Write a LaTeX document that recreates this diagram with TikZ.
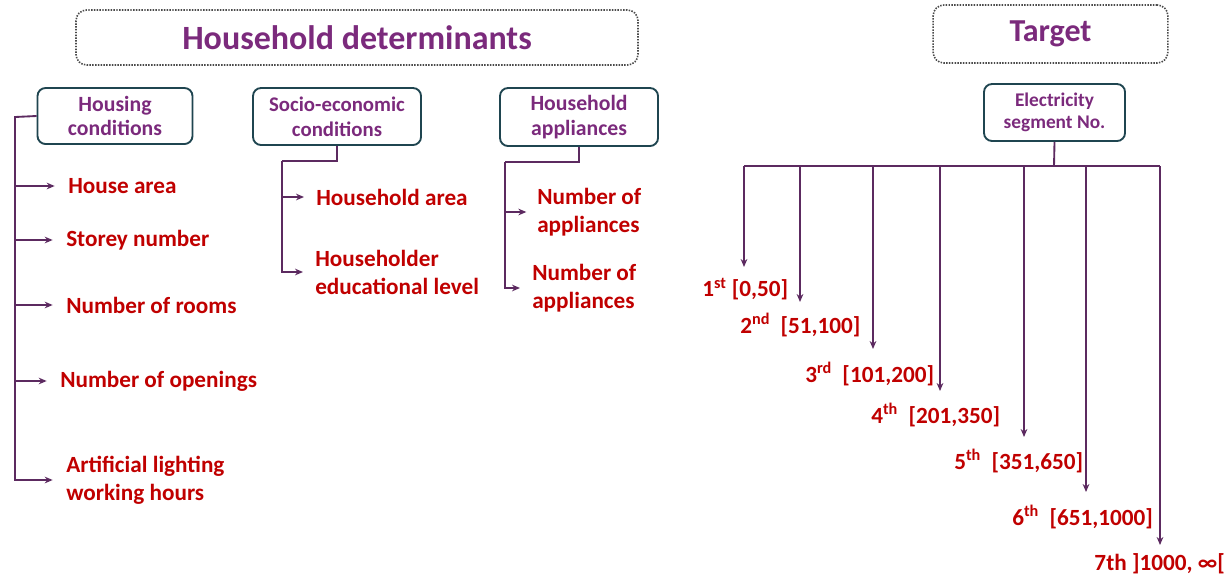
\documentclass[tikz,border=0pt]{standalone}
\usepackage{fontspec}
\setmainfont{Carlito}
\usetikzlibrary{arrows.meta}
\definecolor{tpurple}{HTML}{7B2A7C}
\definecolor{bord}{HTML}{1F4550}
\definecolor{lnc}{HTML}{5C2A60}
\definecolor{tred}{HTML}{C00000}
\definecolor{dotc}{HTML}{4A4A4A}
\begin{document}
\begin{tikzpicture}[x=0.75pt,y=-0.75pt,
  titlebox/.style={draw=dotc, dash pattern=on 1.1pt off 1pt, line width=1.2pt, rounded corners=8pt, text=tpurple, font=\bfseries\fontsize{25.5}{30}\selectfont, inner sep=0},
  catbox/.style={draw=bord, line width=1.4pt, rounded corners=6pt, text=tpurple, align=center, font=\bfseries\fontsize{16.3}{18.5}\selectfont, inner sep=0},
  item/.style={text=tred, font=\bfseries\fontsize{17.4}{21}\selectfont, anchor=west, inner sep=0, align=left},
  seg/.style={text=tred, font=\bfseries\fontsize{17.4}{21}\selectfont, anchor=west, inner sep=0},
  ln/.style={draw=lnc, line width=1.4pt},
  arr/.style={ln, -{Stealth[length=6pt,width=5pt]}}
]
\useasboundingbox (0,0) rectangle (1230,579);

% titles
\node[titlebox, minimum width=421.5pt, minimum height=41.25pt] (hd) at (357,37.5) {Household determinants};
\node[titlebox, minimum width=176pt, minimum height=43.5pt, font=\bfseries\fontsize{24}{28}\selectfont] (tg) at (1050.5,34) {Target};

% category boxes
\node[catbox, minimum width=116.25pt, minimum height=42pt] (hc) at (115,116) {Housing\\conditions};
\node[catbox, minimum width=126pt, minimum height=42.75pt, font=\bfseries\fontsize{15.6}{18.5}\selectfont] (se) at (337,116.5) {Socio-economic\\conditions};
\node[catbox, minimum width=118.5pt, minimum height=43.5pt] (ap) at (579,117) {Household\\appliances};
\node[catbox, minimum width=105.75pt, minimum height=42.75pt, font=\bfseries\fontsize{14.5}{17}\selectfont] (el) at (1054.5,112.5) {Electricity\\segment No.};

% housing items
\node[item] (ha) at (68,186) {House area};
\node[item] (sn) at (66,240) {Storey number};
\node[item] (nr) at (66,305) {Number of rooms};
\node[item] (no) at (60,381) {Number of openings};
\node[item] (al) at (66,480) {Artificial lighting\\working hours};

\coordinate (ht) at (15,117);
\draw[arr, shorten >=10pt] (hc.west) -- (ht) |- (al.west);
\draw[arr, shorten >=10pt] (ht |- ha.west) -- (ha.west);
\draw[arr, shorten >=10pt] (ht |- sn.west) -- (sn.west);
\draw[arr, shorten >=10pt] (ht |- nr.west) -- (nr.west);
\draw[arr, shorten >=10pt] (ht |- no.west) -- (no.west);

% socio-economic items
\node[item] (har) at (316,197) {Household area};
\node[item] (hel) at (315,272) {Householder\\educational level};
\coordinate (sc) at (282,161);
\draw[ln] (se.south) |- (sc);
\draw[arr, shorten >=9pt] (sc) |- (hel.west);
\draw[arr, shorten >=9pt] (sc |- har.west) -- (har.west);

% appliances items
\node[item] (na1) at (537,212) {Number of\\appliances};
\node[item] (na2) at (532,288) {Number of\\appliances};
\coordinate (ac) at (505,162);
\draw[ln] (ap.south) |- (ac);
\draw[arr, shorten >=9pt] (ac) |- (na2.west);
\draw[arr, shorten >=8pt] (ac |- na1.west) -- (na1.west);

% electricity segments
\coordinate (bar) at (1054,166);
\coordinate (t1) at (744,267);
\coordinate (t2) at (800,302);
\coordinate (t3) at (873,349);
\coordinate (t4) at (940,391);
\coordinate (t5) at (1024,437);
\coordinate (t6) at (1086,492);
\coordinate (t7) at (1160,545);
\draw[ln] (el.south) -- (bar);
\draw[ln] (t1 |- bar) -- (t7 |- bar);
\foreach \t in {t1,t2,t3,t4,t5,t6,t7}{
  \draw[arr] (\t |- bar) -- (\t);
}
\node[seg] (s1) at (702,289) {1\textsuperscript{st} [0,50]};
\node[seg] (s2) at (740,325) {2\textsuperscript{nd}\ \ [51,100]};
\node[seg] (s3) at (805,374) {3\textsuperscript{rd}\ \ [101,200]};
\node[seg] (s4) at (871,415) {4\textsuperscript{th}\ \ [201,350]};
\node[seg] (s5) at (954,461) {5\textsuperscript{th}\ \ [351,650]};
\node[seg] (s6) at (1012,517) {6\textsuperscript{th}\ \ [651,1000]};
\node[seg, anchor=east] (s7) at (1225,564) {7th ]1000, ∞[};
\end{tikzpicture}
\end{document}
